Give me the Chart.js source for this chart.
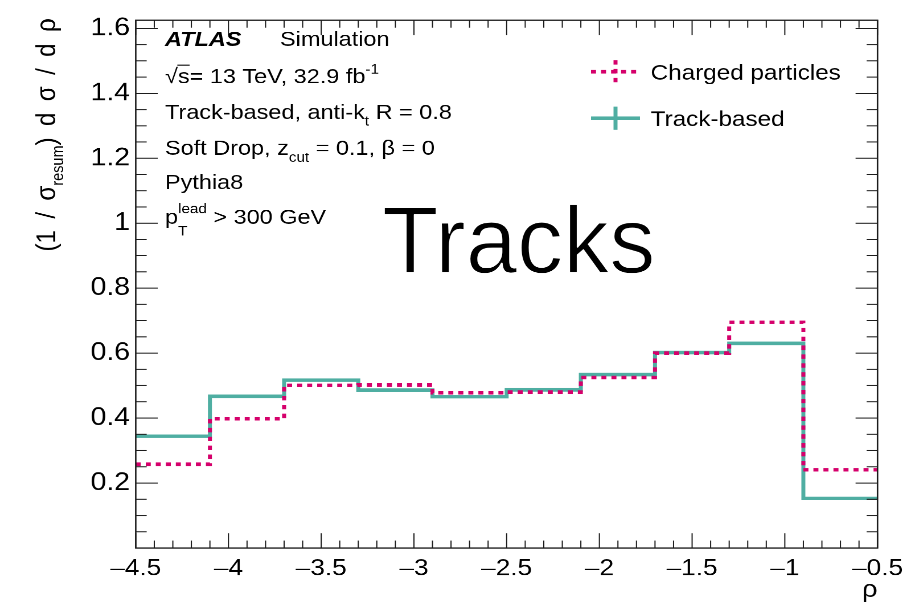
<!DOCTYPE html>
<html>
<head>
<meta charset="utf-8">
<script src="https://cdn.jsdelivr.net/npm/chart.js@4.4.1/dist/chart.umd.min.js"></script>
<style>
  html, body { margin: 0; padding: 0; background: #ffffff; overflow: hidden; }
  /* the plot is laid out on an 800x600 canvas and widened to fill the 911x605 page */
  #plot { position: absolute; left: 0; top: 0; transform-origin: 0 0; transform: scale(1.13875, 1.008333); }
</style>
</head>
<body>
<canvas id="plot" width="800" height="600"></canvas>
<script>
// ---- data -----------------------------------------------------------------
const binEdges = [-4.5, -4.1, -3.7, -3.3, -2.9, -2.5, -2.1, -1.7, -1.3, -0.9, -0.5];
const chargedParticles = [0.258, 0.398, 0.501, 0.502, 0.478, 0.480, 0.525, 0.600, 0.695, 0.241];
const trackBased       = [0.344, 0.467, 0.517, 0.486, 0.466, 0.487, 0.534, 0.602, 0.630, 0.153];
const seriesNames = ['Charged particles', 'Track-based'];
const xTickValues = [-4.5, -4, -3.5, -3, -2.5, -2, -1.5, -1, -0.5];
const xTickLabels = ['\u20134.5', '\u20134', '\u20133.5', '\u20133', '\u20132.5', '\u20132', '\u20131.5', '\u20131', '\u20130.5'];
const yTickValues = [0.2, 0.4, 0.6, 0.8, 1.0, 1.2, 1.4, 1.6];
const yTickLabels = ['0.2', '0.4', '0.6', '0.8', '1', '1.2', '1.4', '1.6'];

// ---- style ----------------------------------------------------------------
const FONT = "'Liberation Sans', Arial, Helvetica, sans-serif";
const PINK = '#d5006b';
const TEAL = '#4faea2';

// histogram outline: one point per lower bin edge plus the closing edge
function stepPoints(values) {
  const pts = values.map((v, i) => ({ x: binEdges[i], y: v }));
  pts.push({ x: binEdges[binEdges.length - 1], y: values[values.length - 1] });
  return pts;
}

// text with sub/superscripts; returns the advance width
function drawRich(ctx, x, y, parts, size, opts = {}) {
  const subScale = opts.subScale || 0.65;
  const subShift = opts.subShift !== undefined ? opts.subShift : 0.32;
  const supShift = opts.supShift !== undefined ? opts.supShift : 0.45;
  const draw = !opts.measureOnly;
  let cx = x;
  for (const part of parts) {
    const p = typeof part === 'string' ? { t: part } : part;
    if (p.sub !== undefined || p.sup !== undefined) {
      ctx.font = `${size * subScale}px ${FONT}`;
      let w = 0;
      if (p.sup !== undefined) {
        if (draw) ctx.fillText(p.sup, cx, y - size * supShift);
        w = Math.max(w, ctx.measureText(p.sup).width);
      }
      if (p.sub !== undefined) {
        if (draw) ctx.fillText(p.sub, cx, y + size * subShift);
        w = Math.max(w, ctx.measureText(p.sub).width);
      }
      cx += w;
    } else if (p.sqrt !== undefined) {
      ctx.font = `${size}px ${FONT}`;
      const rw = ctx.measureText('\u221A').width;
      const aw = ctx.measureText(p.sqrt).width;
      if (draw) {
        ctx.fillText('\u221A', cx, y);
        ctx.fillText(p.sqrt, cx + rw, y);
        ctx.save();
        ctx.lineWidth = 1.1;
        ctx.beginPath();
        ctx.moveTo(cx + rw - 0.5, y - size * 0.86);
        ctx.lineTo(cx + rw + aw, y - size * 0.86);
        ctx.stroke();
        ctx.restore();
      }
      cx += rw + aw;
    } else {
      ctx.font = `${p.style || ''} ${size}px ${FONT}`;
      if (draw) ctx.fillText(p.t, cx, y);
      cx += ctx.measureText(p.t).width;
    }
  }
  return cx - x;
}

// ---- frame with inward ticks on all four sides -----------------------------
const rootFrame = {
  id: 'rootFrame',
  afterDatasetsDraw(chart) {
    const { ctx, chartArea: a, scales: { x, y } } = chart;
    ctx.save();
    ctx.strokeStyle = '#1b1b1b';
    ctx.lineWidth = 1;
    ctx.beginPath();
    const xMinor = 0.1, yMinor = 0.05;
    const nx = Math.round((x.max - x.min) / xMinor);
    for (let k = 0; k <= nx; k++) {
      const px = x.getPixelForValue(x.min + k * xMinor);
      const len = k % 5 === 0 ? 14.8 : 7.4;
      ctx.moveTo(px, a.bottom); ctx.lineTo(px, a.bottom - len);
      ctx.moveTo(px, a.top);    ctx.lineTo(px, a.top + len);
    }
    const ny = Math.floor((y.max - y.min) / yMinor + 1e-6);
    for (let k = 0; k <= ny; k++) {
      const py = y.getPixelForValue(y.min + k * yMinor);
      const len = k % 4 === 0 ? 19.3 : 9.6;
      ctx.moveTo(a.left, py);  ctx.lineTo(a.left + len, py);
      ctx.moveTo(a.right, py); ctx.lineTo(a.right - len, py);
    }
    ctx.stroke();
    ctx.lineWidth = 1.3;
    ctx.strokeRect(a.left, a.top, a.right - a.left, a.bottom - a.top);
    ctx.restore();
  }
};

// ---- labels, legend and axis titles -----------------------------------------
const annotations = {
  id: 'annotations',
  afterDraw(chart) {
    const { ctx, chartArea: a } = chart;
    ctx.save();
    ctx.fillStyle = '#000';
    ctx.strokeStyle = '#000';
    ctx.textBaseline = 'alphabetic';
    ctx.textAlign = 'left';

    // info block
    const ts = 20.6;
    drawRich(ctx, 144.9, 45.6, [{ t: 'ATLAS', style: 'italic bold' }], ts);
    drawRich(ctx, 245.9, 45.6, ['Simulation'], ts);
    drawRich(ctx, 144.9, 82.3, [{ sqrt: 's' }, '= 13 TeV, 32.9 fb', { sup: '-1' }], ts);
    drawRich(ctx, 144.9, 118.0, ['Track-based, anti-k', { sub: 't' }, ' R = 0.8'], ts);
    drawRich(ctx, 144.9, 153.7, ['Soft Drop, z', { sub: 'cut' }, ' = 0.1, \u03B2 = 0'], ts);
    drawRich(ctx, 144.9, 187.6, ['Pythia8'], ts);
    drawRich(ctx, 144.9, 222.0, ['p', { sup: 'lead', sub: 'T' }, ' > 300 GeV'], ts, { subShift: 0.55, supShift: 0.5 });

    // large tag, light strokes
    ctx.save();
    ctx.font = `94px ${FONT}`;
    const tw = ctx.measureText('Tracks').width;
    ctx.translate(335.5, 270.7);
    ctx.scale(240 / tw, 1);
    ctx.fillText('Tracks', 0, 0);
    ctx.strokeStyle = '#ffffff';
    ctx.lineWidth = 1.4;
    ctx.lineJoin = 'round';
    ctx.strokeText('Tracks', 0, 0);
    ctx.restore();

    // legend
    const ds = chart.data.datasets;
    const rows = [71.1, 117.3];
    const lx0 = 519, lx1 = 562, lmid = (lx0 + lx1) / 2;
    ds.forEach((d, i) => {
      const yy = rows[i];
      ctx.save();
      ctx.strokeStyle = d.borderColor;
      ctx.lineWidth = d.borderWidth;
      ctx.lineCap = 'butt';
      ctx.setLineDash(d.borderDash || []);
      ctx.beginPath();
      ctx.moveTo(lx0, yy); ctx.lineTo(lx1, yy);
      ctx.moveTo(lmid, yy - 11.5); ctx.lineTo(lmid, yy + 11.5);
      ctx.stroke();
      ctx.restore();
      ctx.font = `21.3px ${FONT}`;
      ctx.fillText(d.label, 571.4, yy + 7.8);
    });

    // x title
    ctx.font = `24px ${FONT}`;
    ctx.textAlign = 'right';
    ctx.fillText('\u03C1', a.right, 592);
    ctx.textAlign = 'left';

    // y title, read bottom to top, ending at the top of the frame
    const yParts = ['(1 / \u03C3', { sub: 'resum' }, ') d \u03C3 / d \u03C1'];
    const yOpts = { subScale: 0.6, subShift: 0.3 };
    const ys = 24;
    ctx.save();
    ctx.translate(48.3, 18.1);
    ctx.rotate(-Math.PI / 2);
    ctx.wordSpacing = '0px';
    const natural = drawRich(ctx, 0, 0, yParts, ys, Object.assign({ measureOnly: true }, yOpts));
    const spaces = 8;
    ctx.wordSpacing = Math.max(0, (236 - natural) / spaces) + 'px';
    const full = drawRich(ctx, 0, 0, yParts, ys, Object.assign({ measureOnly: true }, yOpts));
    drawRich(ctx, -full, 0, yParts, ys, yOpts);
    ctx.restore();

    ctx.restore();
  }
};

// ---- chart ------------------------------------------------------------------
new Chart(document.getElementById('plot'), {
  type: 'line',
  data: {
    datasets: [
      {
        label: seriesNames[0],
        data: stepPoints(chargedParticles),
        stepped: 'before',
        borderColor: PINK,
        borderWidth: 3.5,
        borderDash: [4.4, 4.4],
        borderCapStyle: 'butt',
        borderJoinStyle: 'miter',
        pointRadius: 0,
        fill: false
      },
      {
        label: seriesNames[1],
        data: stepPoints(trackBased),
        stepped: 'before',
        borderColor: TEAL,
        borderWidth: 3.5,
        borderCapStyle: 'butt',
        borderJoinStyle: 'miter',
        pointRadius: 0,
        fill: false
      }
    ]
  },
  options: {
    responsive: false,
    animation: false,
    devicePixelRatio: 2,
    layout: { padding: { top: 13.2, right: 25.7, left: 0, bottom: 0 } },
    plugins: { legend: { display: false }, tooltip: { enabled: false } },
    scales: {
      x: {
        type: 'linear',
        min: binEdges[0],
        max: binEdges[binEdges.length - 1],
        grid: { display: false, drawTicks: false },
        border: { display: false },
        afterBuildTicks: s => { s.ticks = xTickValues.map(v => ({ value: v })); },
        afterFit: s => { s.height = 56.5; },
        ticks: {
          autoSkip: false, maxRotation: 0, minRotation: 0, padding: 7, color: '#000',
          font: { family: FONT, size: 23 },
          callback: (v, i) => xTickLabels[i]
        }
      },
      y: {
        type: 'linear',
        min: 0,
        max: 1.625,
        grid: { display: false, drawTicks: false },
        border: { display: false },
        afterBuildTicks: s => { s.ticks = yTickValues.map(v => ({ value: v })); },
        afterFit: s => { s.width = 119.2; },
        ticks: {
          padding: 5, color: '#000',
          font: { family: FONT, size: 25 },
          callback: (v, i) => yTickLabels[i]
        }
      }
    }
  },
  plugins: [rootFrame, annotations]
});
</script>
</body>
</html>
